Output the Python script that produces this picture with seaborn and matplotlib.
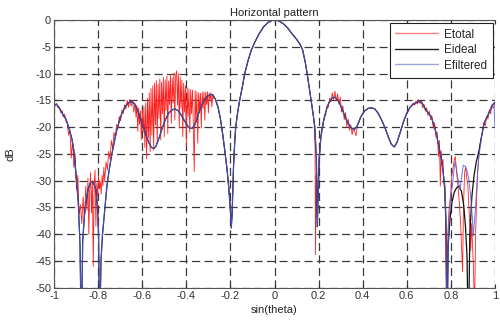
import numpy as np
import pandas as pd
import matplotlib
matplotlib.use("Agg")
import matplotlib.pyplot as plt
from matplotlib.lines import Line2D
import seaborn as sns

# ideal pattern (sin(theta), dB)
ideal_x = [-1.000, -0.990, -0.975, -0.960, -0.945, -0.935, -0.920, -0.910, -0.900, -0.890,
           -0.882, -0.876, -0.870, -0.862, -0.855, -0.845, -0.835, -0.826, -0.817, -0.810,
           -0.803, -0.798, -0.793, -0.787, -0.780, -0.770, -0.760, -0.748, -0.737, -0.725,
           -0.715, -0.703, -0.692, -0.676, -0.660, -0.652, -0.640, -0.628, -0.615, -0.600,
           -0.585, -0.570, -0.558, -0.548, -0.538, -0.525, -0.510, -0.495, -0.480, -0.465,
           -0.451, -0.438, -0.425, -0.410, -0.395, -0.383, -0.372, -0.360, -0.345, -0.330,
           -0.315, -0.300, -0.288, -0.279, -0.268, -0.256, -0.245, -0.235, -0.225, -0.215,
           -0.207, -0.200, -0.196, -0.192, -0.186, -0.180, -0.176, -0.168, -0.158, -0.145,
           -0.135, -0.120, -0.105, -0.090, -0.070, -0.050, -0.030, -0.010, 0.005, 0.020,
           0.040, 0.060, 0.080, 0.100, 0.115, 0.127, 0.140, 0.148, 0.157, 0.166,
           0.175, 0.183, 0.190, 0.194, 0.198, 0.203, 0.210, 0.220, 0.232, 0.245,
           0.258, 0.272, 0.285, 0.298, 0.312, 0.328, 0.345, 0.360, 0.373, 0.390,
           0.408, 0.425, 0.440, 0.455, 0.470, 0.485, 0.500, 0.515, 0.530, 0.543,
           0.555, 0.570, 0.585, 0.600, 0.615, 0.630, 0.645, 0.657, 0.668, 0.680,
           0.695, 0.710, 0.722, 0.733, 0.745, 0.755, 0.765, 0.772, 0.778, 0.782,
           0.788, 0.795, 0.805, 0.815, 0.826, 0.837, 0.848, 0.858, 0.866, 0.873,
           0.879, 0.886, 0.895, 0.905, 0.915, 0.927, 0.940, 0.950, 0.962, 0.972,
           0.987, 1.000]
ideal_db = [-16.0, -15.7, -16.5, -17.6, -18.6, -19.8, -22.0, -24.3, -29.0, -34.0,
            -42.0, -60.0, -41.5, -36.5, -34.0, -31.5, -30.4, -30.2, -30.8, -31.8,
            -34.5, -40.0, -60.0, -45.0, -40.0, -35.4, -31.0, -27.5, -24.9, -22.5,
            -20.5, -18.8, -17.4, -16.1, -15.4, -15.2, -15.4, -16.2, -17.5, -19.3,
            -21.2, -22.9, -23.8, -24.0, -23.6, -22.2, -20.3, -18.6, -17.4, -16.8,
            -16.6, -16.9, -17.6, -18.7, -19.7, -20.2, -20.2, -19.4, -17.6, -15.9,
            -14.7, -14.1, -13.9, -14.0, -14.8, -16.3, -18.5, -21.3, -24.5, -28.0,
            -31.5, -35.5, -38.8, -36.0, -27.5, -22.5, -20.0, -17.5, -15.0, -12.3,
            -10.0, -7.6, -5.6, -4.2, -2.6, -1.3, -0.5, -0.05, 0.0, -0.2,
            -0.7, -1.5, -2.6, -3.6, -4.5, -5.5, -8.0, -10.0, -12.5, -15.0,
            -17.5, -20.0, -26.0, -38.6, -33.0, -26.0, -22.0, -19.3, -17.2, -15.6,
            -14.7, -14.4, -14.8, -15.8, -17.2, -18.8, -20.0, -20.5, -20.0, -18.2,
            -17.0, -16.5, -16.4, -16.6, -17.4, -18.6, -20.0, -21.7, -23.2, -23.7,
            -22.9, -21.0, -19.0, -17.4, -16.3, -15.7, -15.4, -15.2, -15.4, -16.3,
            -17.3, -18.0, -19.5, -21.1, -23.5, -25.5, -28.5, -31.0, -38.0, -60.0,
            -42.0, -37.5, -34.0, -32.2, -31.3, -31.0, -32.0, -34.5, -38.5, -44.0,
            -60.0, -40.0, -33.0, -29.0, -26.5, -24.5, -21.5, -19.3, -18.2, -17.4,
            -15.9, -15.4]

# filtered pattern differs from the ideal one only between the far-right nulls
filt_patch_x = [0.788, 0.793, 0.800, 0.808, 0.818, 0.824, 0.830, 0.841, 0.848, 0.856,
                0.867, 0.875, 0.882, 0.890, 0.897, 0.901, 0.906, 0.912, 0.920, 0.927]
filt_patch_db = [-42.0, -36.7, -33.0, -30.4, -26.5, -27.5, -29.2, -31.7, -29.5, -27.1,
                 -27.4, -28.5, -29.9, -33.0, -36.7, -40.4, -38.0, -34.8, -29.0, -25.5]
filt_edge_x = [0.995, 1.000]
filt_edge_db = [-15.5, -20.0]

# total (noisy) pattern, left part
tot_left_x = [-1.000, -0.994, -0.988, -0.982, -0.976, -0.970, -0.964, -0.958, -0.952, -0.946,
              -0.940, -0.934, -0.928, -0.922, -0.916, -0.910, -0.904, -0.898, -0.892, -0.886,
              -0.880, -0.874, -0.868, -0.862, -0.856, -0.850, -0.846, -0.842, -0.838, -0.834,
              -0.830, -0.826, -0.822, -0.818, -0.814, -0.810, -0.806, -0.802, -0.798, -0.794,
              -0.790, -0.786, -0.782, -0.778, -0.774, -0.770, -0.764, -0.758, -0.752, -0.746,
              -0.740, -0.734, -0.728, -0.722, -0.716, -0.710, -0.704, -0.698, -0.692, -0.686,
              -0.680, -0.674, -0.668, -0.662, -0.656, -0.650, -0.644, -0.638]
tot_left_db = [-16.3, -15.9, -15.6, -16.4, -16.2, -17.3, -16.9, -18.1, -17.6, -18.9,
               -19.2, -21.5, -20.4, -25.8, -22.3, -27.5, -25.0, -31.5, -29.0, -36.2,
               -34.5, -38.0, -33.0, -37.5, -31.0, -35.5, -29.5, -40.0, -31.5, -28.5,
               -36.0, -30.0, -46.0, -31.0, -28.0, -38.5, -30.5, -33.0, -29.0, -31.5,
               -30.2, -32.5, -29.0, -31.0, -27.5, -30.0, -26.5, -28.0, -24.5, -26.0,
               -22.5, -24.0, -21.0, -22.0, -19.5, -20.3, -18.0, -18.8, -16.8, -17.5,
               -15.8, -16.6, -15.0, -16.3, -14.8, -16.1, -15.0, -17.2]

# total pattern, strongly disturbed side lobes
tot_mid_x = [-0.632, -0.628, -0.624, -0.620, -0.616, -0.612, -0.608, -0.604, -0.600, -0.596,
             -0.592, -0.588, -0.584, -0.580, -0.576, -0.572, -0.568, -0.564, -0.560, -0.556,
             -0.552, -0.548, -0.544, -0.540, -0.536, -0.532, -0.528, -0.524, -0.520, -0.516,
             -0.512, -0.508, -0.504, -0.500, -0.496, -0.492, -0.488, -0.484, -0.480, -0.476,
             -0.472, -0.468, -0.464, -0.460, -0.456, -0.452, -0.448, -0.444, -0.440, -0.436,
             -0.432, -0.428, -0.424, -0.420, -0.416, -0.412, -0.408, -0.404, -0.400, -0.396,
             -0.392, -0.388, -0.384, -0.380, -0.376, -0.372, -0.368, -0.364, -0.360, -0.356,
             -0.352, -0.348, -0.344, -0.340, -0.336, -0.332, -0.328, -0.324, -0.320, -0.316,
             -0.312, -0.308, -0.304, -0.300, -0.296, -0.292, -0.288, -0.284, -0.280, -0.276]
tot_mid_db = [-15.6, -18.2, -15.9, -20.8, -16.4, -19.5, -17.0, -22.4, -16.8, -21.0,
              -16.2, -23.8, -15.5, -25.9, -14.6, -22.0, -13.6, -24.6, -12.8, -21.5,
              -12.3, -24.3, -11.8, -19.6, -11.3, -23.1, -12.0, -18.4, -11.0, -22.4,
              -11.6, -17.5, -10.7, -21.8, -11.2, -16.9, -10.5, -21.2, -11.4, -15.8,
              -10.2, -19.3, -10.8, -15.5, -9.9, -18.7, -10.3, -9.5, -15.9, -10.0,
              -20.2, -10.6, -16.5, -11.2, -21.8, -11.8, -17.2, -12.3, -23.6, -12.7,
              -18.0, -12.9, -21.0, -13.0, -17.5, -13.1, -19.8, -28.3, -13.2, -19.0,
              -13.4, -23.0, -13.6, -17.2, -13.7, -20.2, -13.5, -16.5, -13.4, -18.7,
              -13.5, -15.8, -13.4, -17.4, -13.6, -14.9, -13.6, -16.2, -13.9, -14.6]

# total pattern, first right side lobes
tot_right_x = [0.180, 0.184, 0.186, 0.189, 0.193, 0.197, 0.202, 0.208, 0.214, 0.220,
               0.226, 0.232, 0.238, 0.244, 0.250, 0.256, 0.262, 0.268, 0.274, 0.280,
               0.286, 0.292, 0.298, 0.304, 0.310, 0.316, 0.322, 0.328, 0.334, 0.340,
               0.346, 0.352, 0.358, 0.364, 0.370, 0.376, 0.382, 0.388, 0.394, 0.400]
tot_right_db = [-19.5, -24.0, -43.8, -29.0, -37.0, -30.0, -25.5, -22.6, -20.5, -19.8,
                -17.9, -17.8, -16.0, -16.3, -14.6, -15.3, -13.6, -14.9, -13.3, -15.1,
                -13.8, -15.7, -14.4, -17.2, -16.0, -18.6, -17.3, -19.9, -18.5, -20.6,
                -19.6, -21.4, -20.1, -20.9, -21.6, -19.6, -19.2, -18.5, -17.9, -17.4]

# total pattern, far right
tot_far_x = [0.630, 0.636, 0.642, 0.648, 0.654, 0.660, 0.666, 0.672, 0.678, 0.684,
             0.690, 0.696, 0.702, 0.708, 0.714, 0.720, 0.726, 0.732, 0.738, 0.744,
             0.748, 0.752, 0.756, 0.760, 0.764, 0.768, 0.772, 0.776, 0.780, 0.786,
             0.792, 0.798, 0.804, 0.810, 0.816, 0.820, 0.826, 0.832, 0.838, 0.844,
             0.850, 0.853, 0.857, 0.862, 0.867, 0.872, 0.877, 0.882, 0.886, 0.890,
             0.894, 0.898, 0.903, 0.907, 0.912, 0.917, 0.922, 0.927, 0.932, 0.938,
             0.944, 0.950, 0.956, 0.962, 0.968, 0.974, 0.980, 0.986, 0.992, 1.000]
tot_far_db = [-15.5, -15.9, -15.1, -15.7, -14.9, -15.6, -15.2, -16.4, -15.7, -17.0,
              -16.4, -17.8, -17.0, -18.6, -17.9, -20.2, -19.2, -21.8, -21.0, -25.5,
              -22.5, -31.0, -24.5, -27.0, -26.0, -30.5, -32.0, -38.0, -55.0, -40.0,
              -35.0, -33.0, -29.0, -27.5, -26.0, -25.5, -28.5, -31.0, -34.0, -38.0,
              -44.0, -47.0, -35.0, -28.5, -27.5, -29.5, -31.0, -35.0, -38.5, -43.0,
              -38.0, -42.0, -47.0, -55.0, -40.0, -33.0, -28.0, -25.0, -23.2, -21.8,
              -20.8, -19.2, -19.8, -18.0, -18.5, -16.8, -17.5, -16.0, -16.5, -15.5]

colors = {'Etotal': '#ff2020', 'Eideal': '#111111', 'Efiltered': '#4d5fe0'}


def main():
    ideal = pd.DataFrame({'x': ideal_x, 'dB': ideal_db})

    keep = (ideal['x'] < filt_patch_x[0]) | (ideal['x'] > filt_patch_x[-1])
    filt = pd.concat([ideal[keep & (ideal['x'] < 0.99)],
                      pd.DataFrame({'x': filt_patch_x, 'dB': filt_patch_db}),
                      pd.DataFrame({'x': filt_edge_x, 'dB': filt_edge_db})]).sort_values('x')

    total = pd.concat([
        pd.DataFrame({'x': tot_left_x, 'dB': tot_left_db}),
        pd.DataFrame({'x': tot_mid_x, 'dB': tot_mid_db}),
        ideal[(ideal['x'] > -0.272) & (ideal['x'] < 0.178)],
        pd.DataFrame({'x': tot_right_x, 'dB': tot_right_db}),
        ideal[(ideal['x'] > 0.402) & (ideal['x'] < 0.625)],
        pd.DataFrame({'x': tot_far_x, 'dB': tot_far_db}),
    ]).sort_values('x')

    sns.set_style("white")
    plt.rcParams['font.family'] = ['Liberation Sans', 'DejaVu Sans']

    fig = plt.figure(figsize=(5.0, 3.22), dpi=100)
    ax = fig.add_axes([0.108, 0.106, 0.882, 0.832])

    sns.lineplot(data=total, x='x', y='dB', ax=ax, color=colors['Etotal'], lw=0.6,
                 sort=False, estimator=None)
    sns.lineplot(data=ideal, x='x', y='dB', ax=ax, color=colors['Eideal'], lw=0.9,
                 sort=False, estimator=None)
    sns.lineplot(data=filt, x='x', y='dB', ax=ax, color=colors['Efiltered'], lw=0.7, alpha=0.85,
                 sort=False, estimator=None)

    ax.set_xlim(-1, 1)
    ax.set_ylim(-50, 0)
    xt = np.arange(-1, 1.01, 0.2).round(1)
    ax.set_xticks(xt)
    ax.set_xticklabels(['-1', '-0.8', '-0.6', '-0.4', '-0.2', '0', '0.2', '0.4', '0.6', '0.8', '1'])
    yt = np.arange(-50, 1, 5)
    ax.set_yticks(yt)
    ax.set_yticklabels([str(v) for v in yt])
    ax.grid(True, color='#3a3a3a', lw=0.9, linestyle=(0, (6.5, 3.5)))
    ax.tick_params(direction='in', length=3, labelsize=8, colors='#333333',
                   top=True, bottom=True, left=True, right=False, pad=2)
    for side in ['left', 'bottom', 'top']:
        ax.spines[side].set_color('#555555')
        ax.spines[side].set_linewidth(0.8)
    ax.spines['right'].set_visible(False)

    ax.set_title('Horizontal pattern', fontsize=8, pad=3, color='#222222')
    ax.set_xlabel('sin(theta)', fontsize=8, labelpad=3, color='#222222')
    ax.set_ylabel('dB', fontsize=8, labelpad=14, color='#222222')

    handles = [Line2D([], [], color='#ff8080', lw=1.0),
               Line2D([], [], color='#222222', lw=1.0),
               Line2D([], [], color='#9aa6d8', lw=1.0)]
    leg = ax.legend(handles, ['Etotal', 'Eideal', 'Efiltered'],
                    loc='upper right', bbox_to_anchor=(0.995, 0.99), borderaxespad=0,
                    fontsize=8.5, frameon=True, fancybox=False, framealpha=1,
                    handlelength=3.6, labelspacing=0.3, borderpad=0.5, handletextpad=0.5)
    leg.get_frame().set_edgecolor('#222222')
    leg.get_frame().set_linewidth(0.8)

    fig.savefig('out.png', dpi=100)


if __name__ == '__main__':
    main()
